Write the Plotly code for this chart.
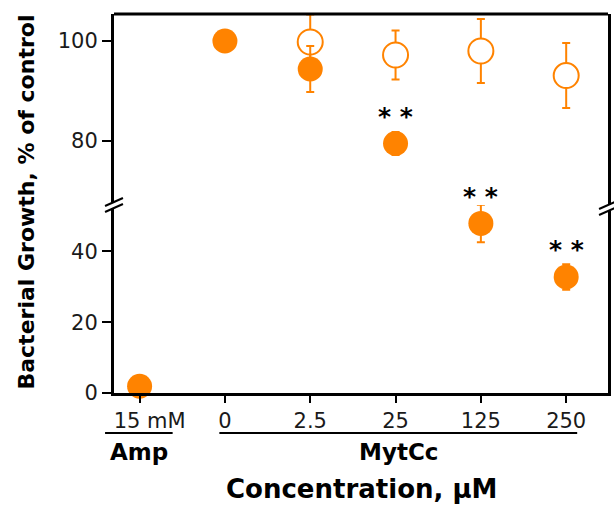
import plotly.graph_objects as go
import numpy as np

categories = ["15 mM", "0", "2.5", "25", "125", "250"]
tick_labels = ["\u00a0\u00a0\u00a015 mM", "0", "2.5", "25", "125", "250"]
filled_vals = [1.9, 100, 94.4, 79.5, 47.9, 32.8]
filled_err = [0, 0, 4.6, 2.3, 5.3, 3.6]
open_cats = ["2.5", "25", "125", "250"]
open_vals = [99.8, 97.2, 98.0, 93.1]
open_err = [5.5, 4.9, 6.4, 6.5]
signif_cats = ["25", "125", "250"]
signif_text = ["* *", "* *", "* *"]

ORANGE = "#FF8300"
W, H = 614, 506
X0, X1, Y0, Y1 = 114, 611, 14, 393
L, R, T, B = X0, W - X1, Y0, H - Y1
PW, PH = W - L - R, H - T - B
BREAK = 0.496

def px(x):
    return (x - X0) / PW

def py(y):
    return (Y1 - y) / PH

xpos = {c: i for i, c in enumerate(categories)}
fv = np.array(filled_vals)
fe = np.array(filled_err)
fx = np.array([xpos[c] for c in categories])
top_mask = fv > 60

fig = go.Figure()

fig.add_trace(go.Scatter(
    x=[xpos[c] for c in open_cats], y=open_vals, mode="markers",
    marker=dict(symbol="circle", size=25, color="white", line=dict(color=ORANGE, width=2)),
    error_y=dict(type="data", array=open_err, color=ORANGE, thickness=2, width=4),
    xaxis="x", yaxis="y2", cliponaxis=False, showlegend=False))

fig.add_trace(go.Scatter(
    x=fx[top_mask], y=fv[top_mask], mode="markers",
    marker=dict(symbol="circle", size=25, color=ORANGE),
    error_y=dict(type="data", array=fe[top_mask], color=ORANGE, thickness=2, width=4),
    xaxis="x", yaxis="y2", cliponaxis=False, showlegend=False))

fig.add_trace(go.Scatter(
    x=fx[~top_mask], y=fv[~top_mask], mode="markers",
    marker=dict(symbol="circle", size=25, color=ORANGE),
    error_y=dict(type="data", array=fe[~top_mask], color=ORANGE, thickness=2, width=4),
    xaxis="x", yaxis="y", cliponaxis=False, showlegend=False))

annotations = []
for c, t in zip(signif_cats, signif_text):
    v = filled_vals[categories.index(c)]
    annotations.append(dict(
        x=xpos[c], y=v, xref="x", yref="y2" if v > 60 else "y",
        text="<b>" + t + "</b>", showarrow=False, yshift=27, xanchor="center", yanchor="middle",
        font=dict(family="DejaVu Sans", size=25, color="black")))

def txt(x, y, s, size, angle=0):
    annotations.append(dict(x=px(x), y=py(y), xref="paper", yref="paper", text=s,
                            textangle=angle, showarrow=False, xanchor="center", yanchor="middle",
                            font=dict(family="DejaVu Sans", size=size, color="black")))

txt(25, 202, "<b>Bacterial Growth, % of control</b>", 22, -90)
txt(139, 452, "<b>Amp</b>", 23)
txt(400, 452, "<b>MytCc</b>", 23)
txt(363, 489, "<b>Concentration, μM</b>", 26)

shapes = [
    dict(type="line", xref="paper", yref="paper", x0=px(105), x1=px(173), y0=py(433), y1=py(433),
         line=dict(color="black", width=2)),
    dict(type="line", xref="paper", yref="paper", x0=px(220), x1=px(580), y0=py(433), y1=py(433),
         line=dict(color="black", width=2)),
    dict(type="line", xref="paper", yref="paper", x0=0, x1=1, y0=1, y1=1,
         line=dict(color="black", width=3)),
]
for xc, yc in [(114, 205), (611, 208)]:
    shapes.append(dict(type="rect", xref="paper", yref="paper", x0=px(xc - 3), x1=px(xc + 3),
                       y0=py(yc + 3), y1=py(yc - 3), fillcolor="white", line=dict(width=0)))
    for d in (-3, 3):
        shapes.append(dict(type="line", xref="paper", yref="paper",
                           x0=px(xc - 9), x1=px(xc + 9), y0=py(yc + d + 4), y1=py(yc + d - 4),
                           line=dict(color="black", width=2)))

axis_common = dict(showline=True, linecolor="black", linewidth=3, ticks="outside",
                   tickwidth=2, tickcolor="black", showgrid=False, zeroline=False)

fig.update_layout(
    width=W, height=H, margin=dict(l=L, r=R, t=T, b=B, pad=0),
    plot_bgcolor="white", paper_bgcolor="white",
    font=dict(family="DejaVu Sans", size=21, color="#1a1a1a"),
    xaxis=dict(range=[-0.3, 5.49], tickmode="array", tickvals=list(range(len(categories))),
               ticktext=tick_labels, ticklen=7, anchor="y", **axis_common),
    yaxis=dict(domain=[0, BREAK], range=[0, 53.1], tickvals=[0, 20, 40], ticklen=9,
               mirror=True, **axis_common),
    yaxis2=dict(domain=[BREAK, 1], range=[67.2, 105.4], tickvals=[80, 100], ticklen=9,
                mirror=True, anchor="x", **axis_common),
    annotations=annotations, shapes=shapes,
)

fig.write_html("out.html", config={"displayModeBar": False},
               post_script="document.body.style.margin='0';document.body.style.overflow='hidden';")
